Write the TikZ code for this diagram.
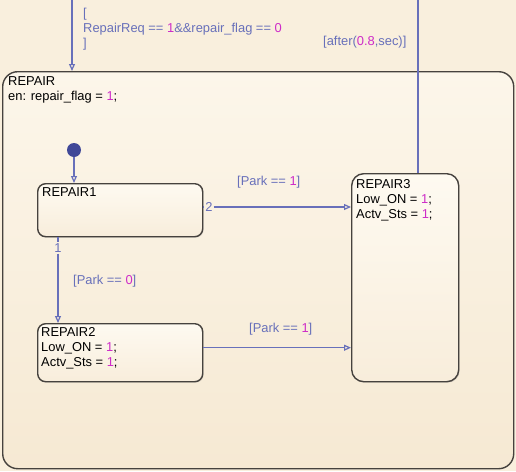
\documentclass[tikz,border=0pt]{standalone}
\usepackage{fontspec}
\setmainfont{Liberation Sans}
\usetikzlibrary{arrows.meta,shadows}
\definecolor{chartbg}{RGB}{249,239,221}
\definecolor{statetop}{RGB}{252,246,234}
\definecolor{statebot}{RGB}{246,233,211}
\definecolor{subtop}{RGB}{254,250,241}
\definecolor{subbot}{RGB}{248,237,219}
\definecolor{stateline}{RGB}{70,66,62}
\definecolor{transcol}{RGB}{104,112,186}
\definecolor{numcol}{RGB}{206,44,200}
\definecolor{dotcol}{RGB}{64,72,152}
\newcommand{\valnum}[1]{\textcolor{numcol}{#1}}

\begin{document}
\begin{tikzpicture}[x=1pt, y=-1pt, font=\fontsize{12.9}{15}\selectfont]
      \tikzset{
	  superstate/.style={rectangle, rounded corners=15pt, draw=stateline, line width=1.4pt, top color=statetop, bottom color=statebot, anchor=north west},
	  substate/.style={rectangle, rounded corners=8pt, draw=stateline, line width=1.4pt, top color=subtop, bottom color=subbot, anchor=north west, drop shadow={shadow xshift=1pt, shadow yshift=-1pt, opacity=0.25}},
	  statetext/.style={anchor=north west, inner sep=0pt, align=left, text=black},
	  guard/.style={anchor=north west, inner sep=0pt, align=left, text=transcol},
	  transline/.style={draw=transcol, line width=1.2pt},
	  trans/.style={transline, -{Triangle[open, length=7pt, width=6pt]}}
      }

      \useasboundingbox (0,0) rectangle (516,471);
      \fill[chartbg] (0,0) rectangle (516,471);

      \node[superstate, minimum width=511pt, minimum height=397pt] (repair) at (2,71) {};
      \node[statetext] (repairtxt) at (8,76) {REPAIR\\en: repair\_flag = \valnum{1};};

      \node[substate, minimum width=165pt, minimum height=53pt] (repair1) at (37,183) {};
      \node[statetext] (repair1txt) at (42,187) {REPAIR1};
      \node[substate, minimum width=165pt, minimum height=58pt] (repair2) at (37,323) {};
      \node[statetext] (repair2txt) at (41,327) {REPAIR2\\Low\_ON = \valnum{1};\\Actv\_Sts = \valnum{1};};
      \node[substate, rounded corners=12pt, minimum width=107pt, minimum height=208pt] (repair3) at (351,173) {};
      \node[statetext] (repair3txt) at (356,179) {REPAIR3\\Low\_ON = \valnum{1};\\Actv\_Sts = \valnum{1};};

      \coordinate (entry) at (72,0);
      \draw[trans] (entry) -- (entry |- repair.north);
      \node[guard] (entryguard) at (83,8) {[\\RepairReq == \valnum{1}\&\&repair\_flag == \valnum{0}\\]};

      \coordinate (exit) at (418,0);
      \draw[transline] (exit |- repair3.north) -- (exit);
      \node[guard] (exitguard) at (323,36) {[after(\valnum{0.8},sec)]};

      \node[circle, fill=dotcol, inner sep=0pt, minimum size=14pt] (init) at (74,150) {};
      \draw[trans] (init) -- (init |- repair1.north);

      \node[text=transcol, inner sep=1pt] (out2) at (209,207) {2};
      \draw[transline] (repair1.east |- out2) -- (out2.west);
      \draw[trans] (out2.east) -- (out2.east -| repair3.west);
      \node[guard] (guard12) at (237,176) {[Park == \valnum{1}]};

      \node[text=transcol, inner sep=1pt] (out1) at (58,248) {1};
      \draw[transline] (out1 |- repair1.south) -- (out1.north);
      \draw[trans] (out1.south) -- (out1 |- repair2.north);
      \node[guard] (guard11) at (73,275) {[Park == \valnum{0}]};

      \coordinate (r2out) at ([yshift=5pt]repair2.east);
      \draw[trans] (r2out) -- (r2out -| repair3.west);
      \node[guard] (guard23) at (249,323) {[Park == \valnum{1}]};
\end{tikzpicture}
\end{document}
